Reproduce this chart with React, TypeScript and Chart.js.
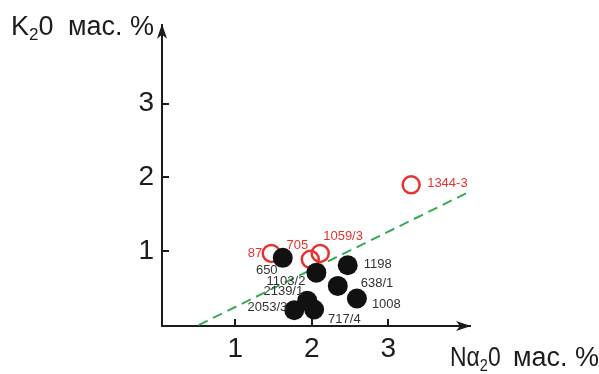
import React, { useEffect, useRef } from "react";
import { Chart, registerables } from "chart.js";

Chart.register(...registerables);

// ---- data ----
const blackNames = ["650", "1198", "1103/2", "638/1", "1008", "2139/1", "2053/3", "717/4"];
const blackNa2O = [1.62, 2.47, 2.06, 2.34, 2.59, 1.94, 1.77, 2.03];
const blackK2O = [0.91, 0.81, 0.71, 0.53, 0.36, 0.33, 0.20, 0.21];

const redNames = ["87", "705", "1059/3", "1344-3"];
const redNa2O = [1.47, 1.98, 2.11, 3.30];
const redK2O = [0.97, 0.89, 0.97, 1.90];

const trendNa2O = [0.52, 4.09];
const trendK2O = [0.0, 1.82];

const xTicks = [1, 2, 3];
const yTicks = [1, 2, 3];

// label placement (style only): [dx, dy, align]
const blackLabelPos: [number, number, CanvasTextAlign][] = [
  [-16, 13, "center"],
  [16, -1, "left"],
  [-11, 9, "right"],
  [23, -2, "left"],
  [15, 6, "left"],
  [-4, -9, "right"],
  [-7, -3, "right"],
  [14, 10, "left"],
];
const redLabelPos: [number, number, CanvasTextAlign][] = [
  [-9, 0, "right"],
  [-13, -14, "center"],
  [3, -17, "left"],
  [16, -1, "left"],
];

const FONT = "'Liberation Sans', Arial, sans-serif";
const RED = "#e8322f";
const INK = "#1c1c1c";

type Part = { t: string; sub?: boolean };

function drawParts(ctx: CanvasRenderingContext2D, parts: Part[], x: number, y: number, size: number, sx = 1) {
  ctx.save();
  ctx.translate(x, y);
  ctx.scale(sx, 1);
  let cx = 0;
  for (const p of parts) {
    const s = p.sub ? Math.round(size * 0.62) : size;
    ctx.font = `${s}px ${FONT}`;
    ctx.fillText(p.t, cx, p.sub ? size * 0.2 : 0);
    cx += ctx.measureText(p.t).width;
  }
  ctx.restore();
}

const overlayPlugin = {
  id: "overlay",
  afterDraw(chart: any) {
    const { ctx, chartArea, scales } = chart;
    const xs = scales.x;
    const ys = scales.y;
    ctx.save();
    // inward tick marks
    ctx.strokeStyle = INK;
    ctx.lineWidth = 2;
    for (const v of xTicks) {
      const px = Math.round(xs.getPixelForValue(v));
      ctx.beginPath();
      ctx.moveTo(px, chartArea.bottom);
      ctx.lineTo(px, chartArea.bottom - 7);
      ctx.stroke();
    }
    for (const v of yTicks) {
      const py = Math.round(ys.getPixelForValue(v));
      ctx.beginPath();
      ctx.moveTo(chartArea.left, py);
      ctx.lineTo(chartArea.left + 7, py);
      ctx.stroke();
    }
    // arrowheads
    ctx.fillStyle = INK;
    const bx = chartArea.right + 1;
    const by = chartArea.bottom;
    ctx.beginPath();
    ctx.moveTo(bx, by);
    ctx.lineTo(bx - 15, by - 5);
    ctx.lineTo(bx - 11, by);
    ctx.lineTo(bx - 15, by + 5);
    ctx.closePath();
    ctx.fill();
    const tx = chartArea.left;
    const ty = chartArea.top - 1;
    ctx.beginPath();
    ctx.moveTo(tx, ty);
    ctx.lineTo(tx - 5, ty + 15);
    ctx.lineTo(tx, ty + 11);
    ctx.lineTo(tx + 5, ty + 15);
    ctx.closePath();
    ctx.fill();

    // point labels
    ctx.font = `13px ${FONT}`;
    ctx.textBaseline = "middle";
    const drawLabels = (dsIndex: number, names: string[], pos: [number, number, CanvasTextAlign][], color: string) => {
      const meta = chart.getDatasetMeta(dsIndex);
      ctx.fillStyle = color;
      meta.data.forEach((el: any, i: number) => {
        const [dx, dy, al] = pos[i];
        ctx.textAlign = al;
        ctx.fillText(names[i], el.x + dx, el.y + dy);
      });
    };
    drawLabels(1, redNames, redLabelPos, RED);
    drawLabels(0, blackNames, blackLabelPos, "#333333");

    // axis titles
    ctx.fillStyle = INK;
    ctx.textAlign = "left";
    ctx.textBaseline = "alphabetic";
    drawParts(ctx, [{ t: "K" }, { t: "2", sub: true }, { t: "0" }], 11, 35, 27);
    ctx.font = `27px ${FONT}`;
    ctx.fillText("мас. %", 68, 35);
    drawParts(ctx, [{ t: "Nα" }, { t: "2", sub: true }, { t: "0" }], 450, 366, 27, 0.85);
    ctx.font = `27px ${FONT}`;
    ctx.fillText("мас. %", 513, 366);
    ctx.restore();
  },
};

export default function App() {
  const ref = useRef<HTMLCanvasElement | null>(null);
  useEffect(() => {
    document.body.style.margin = "0";
    const canvas = ref.current!;
    const chart = new Chart(canvas, {
      type: "scatter",
      data: {
        datasets: [
          {
            label: "black",
            data: blackNa2O.map((x, i) => ({ x, y: blackK2O[i] })),
            pointRadius: 10,
            pointHoverRadius: 10,
            backgroundColor: "#111111",
            borderWidth: 0,
            order: 1,
          },
          {
            label: "red",
            data: redNa2O.map((x, i) => ({ x, y: redK2O[i] })),
            pointRadius: 8.5,
            pointHoverRadius: 8.5,
            backgroundColor: "rgba(0,0,0,0)",
            borderColor: RED,
            borderWidth: 2.5,
            order: 2,
          },
          {
            type: "line",
            label: "trend",
            data: trendNa2O.map((x, i) => ({ x, y: trendK2O[i] })),
            borderColor: "#36ab55",
            borderWidth: 2,
            borderDash: [10, 6],
            pointRadius: 0,
            fill: false,
            order: 3,
          } as any,
        ],
      },
      options: {
        animation: false,
        responsive: false,
        events: [],
        layout: { padding: { left: 102, right: 129, top: 20, bottom: 0 } },
        plugins: { legend: { display: false }, tooltip: { enabled: false } },
        scales: {
          x: {
            type: "linear",
            min: 0.04,
            max: 4.07,
            grid: { display: false, drawTicks: false },
            border: { display: true, color: INK, width: 2 },
            afterFit: (s: any) => {
              s.height = 48;
            },
            afterBuildTicks: (s: any) => {
              s.ticks = xTicks.map((v) => ({ value: v }));
            },
            ticks: {
              padding: 6,
              color: INK,
              font: { family: FONT, size: 28 },
              callback: (v: any) => String(v),
            },
          },
          y: {
            type: "linear",
            min: -0.013,
            max: 4.067,
            grid: { display: false, drawTicks: false },
            border: { display: true, color: INK, width: 2 },
            afterFit: (s: any) => {
              s.width = 60;
            },
            afterBuildTicks: (s: any) => {
              s.ticks = yTicks.map((v) => ({ value: v }));
            },
            ticks: {
              padding: 8,
              color: INK,
              font: { family: FONT, size: 28 },
              callback: (v: any) => String(v),
            },
          },
        },
      },
      plugins: [overlayPlugin],
    });
    return () => chart.destroy();
  }, []);
  return <canvas ref={ref} width={599} height={374} style={{ display: "block" }} />;
}
